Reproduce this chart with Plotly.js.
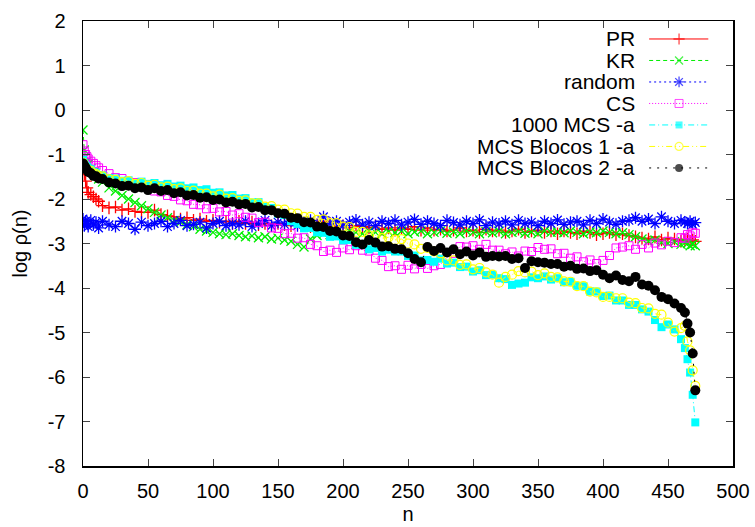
<!DOCTYPE html>
<html><head><meta charset="utf-8">
<script src="https://cdn.plot.ly/plotly-3.0.1.min.js"></script>
<style>html,body{margin:0;padding:0;background:#fff}#c{width:755px;height:527px}</style>
</head><body><div id="c"></div>
<script>
const n = [0,1,2,3,4,6,8,10,12,15,20,25,30,35,40,45,50,55,60,65,70,75,80,85,90,95,100,105,110,115,120,125,130,135,140,145,150,155,160,165,170,175,180,185,190,195,200,205,210,215,220,225,230,235,240,245,250,255,260,265,270,275,280,285,290,295,300,305,310,315,320,325,330,335,340,345,350,355,360,365,370,375,380,385,390,395,400,405,410,415,420,425,430,435,440,445,450,455,460,463,465,467,469,471];

const PR = [-1.25,-1.45,-1.6,-1.75,-1.85,-1.9,-1.95,-2.0,-2.05,-2.15,
-2.2,-2.18,-2.25,-2.22,-2.28,-2.3,-2.3,-2.25,-2.35,-2.38,
-2.4,-2.45,-2.42,-2.48,-2.45,-2.5,-2.48,-2.52,-2.5,-2.55,
-2.5,-2.55,-2.52,-2.58,-2.55,-2.6,-2.55,-2.58,-2.6,-2.55,
-2.6,-2.62,-2.58,-2.5,-2.55,-2.62,-2.6,-2.65,-2.6,-2.62,
-2.65,-2.6,-2.68,-2.65,-2.7,-2.65,-2.68,-2.62,-2.7,-2.65,
-2.7,-2.68,-2.72,-2.7,-2.65,-2.72,-2.7,-2.75,-2.68,-2.72,
-2.7,-2.75,-2.72,-2.68,-2.75,-2.72,-2.7,-2.75,-2.72,-2.78,
-2.72,-2.75,-2.78,-2.72,-2.75,-2.8,-2.78,-2.75,-2.8,-2.78,
-2.82,-2.85,-2.88,-2.9,-2.85,-2.92,-2.88,-2.9,-2.95,-2.92,
-2.9,-2.95,-2.92,-2.95];

const KR = [-0.45,-0.9,-1.05,-1.15,-1.22,-1.32,-1.4,-1.48,-1.55,-1.62,
-1.75,-1.82,-1.92,-2.0,-2.08,-2.15,-2.22,-2.3,-2.36,-2.42,
-2.48,-2.52,-2.58,-2.62,-2.68,-2.72,-2.75,-2.78,-2.8,-2.78,
-2.82,-2.85,-2.83,-2.87,-2.85,-2.9,-2.88,-2.92,-2.95,-3.02,
-3.08,-2.9,-2.82,-2.78,-2.8,-2.75,-2.78,-2.72,-2.75,-2.78,
-2.72,-2.75,-2.78,-2.73,-2.76,-2.72,-2.78,-2.74,-2.72,-2.78,
-2.75,-2.72,-2.77,-2.74,-2.78,-2.72,-2.75,-2.78,-2.73,-2.76,
-2.72,-2.78,-2.75,-2.73,-2.77,-2.74,-2.78,-2.72,-2.75,-2.74,
-2.76,-2.72,-2.75,-2.78,-2.74,-2.76,-2.72,-2.75,-2.78,-2.76,
-2.8,-2.85,-2.9,-2.95,-2.92,-2.98,-3.0,-2.96,-3.02,-2.98,
-3.0,-3.05,-3.02,-3.05];

const RANDOM = [-2.45,-2.6,-2.5,-2.55,-2.62,-2.48,-2.58,-2.52,-2.65,-2.5,
-2.58,-2.62,-2.5,-2.55,-2.68,-2.52,-2.6,-2.55,-2.5,-2.62,
-2.55,-2.48,-2.6,-2.57,-2.52,-2.65,-2.55,-2.5,-2.6,-2.55,
-2.58,-2.5,-2.62,-2.55,-2.48,-2.6,-2.52,-2.57,-2.5,-2.6,
-2.53,-2.48,-2.58,-2.4,-2.55,-2.5,-2.6,-2.52,-2.47,-2.58,
-2.52,-2.6,-2.5,-2.55,-2.48,-2.58,-2.52,-2.46,-2.57,-2.5,
-2.55,-2.6,-2.48,-2.53,-2.58,-2.5,-2.55,-2.47,-2.6,-2.52,
-2.56,-2.5,-2.58,-2.48,-2.55,-2.52,-2.6,-2.5,-2.55,-2.47,
-2.57,-2.52,-2.5,-2.58,-2.48,-2.55,-2.45,-2.52,-2.57,-2.5,
-2.48,-2.42,-2.5,-2.45,-2.55,-2.4,-2.5,-2.55,-2.48,-2.52,
-2.55,-2.5,-2.57,-2.53];

const CS = [-0.78,-0.92,-1.0,-1.05,-1.1,-1.15,-1.2,-1.25,-1.3,-1.36,
-1.43,-1.52,-1.54,-1.62,-1.63,-1.72,-1.74,-1.82,-1.84,-1.92,
-1.94,-2.02,-2.04,-2.12,-2.13,-2.22,-2.21,-2.29,-2.28,-2.36,
-2.33,-2.41,-2.43,-2.53,-2.52,-2.65,-2.66,-2.78,-2.77,-2.88,
-2.87,-3.02,-3.05,-3.18,-3.15,-3.2,-3.1,-3.14,-3.05,-3.15,
-3.17,-3.33,-3.38,-3.52,-3.5,-3.58,-3.49,-3.57,-3.47,-3.56,
-3.5,-3.47,-3.32,-3.22,-3.07,-3.08,-3.05,-3.13,-3.02,-3.15,
-3.15,-3.23,-3.19,-3.28,-3.17,-3.18,-3.09,-3.13,-3.12,-3.23,
-3.22,-3.33,-3.3,-3.41,-3.37,-3.45,-3.38,-3.27,-3.1,-3.08,
-3.05,-3.13,-3.02,-3.1,-2.99,-3.03,-2.95,-2.98,-2.87,-2.88,
-2.8,-2.83,-2.76,-2.77];

const MCS1000 = [-1.12,-1.2,-1.25,-1.28,-1.31,-1.33,-1.39,-1.41,-1.46,-1.47,
-1.53,-1.54,-1.59,-1.58,-1.64,-1.61,-1.66,-1.64,-1.69,-1.66,
-1.72,-1.7,-1.76,-1.74,-1.8,-1.78,-1.86,-1.85,-1.92,-1.91,
-1.99,-1.98,-2.08,-2.07,-2.18,-2.2,-2.33,-2.36,-2.5,-2.56,
-2.66,-2.65,-2.75,-2.76,-2.85,-2.84,-2.93,-2.92,-3.03,-3.02,
-3.13,-3.1,-3.18,-3.14,-3.18,-3.18,-3.28,-3.27,-3.38,-3.37,
-3.41,-3.34,-3.45,-3.43,-3.53,-3.52,-3.63,-3.6,-3.71,-3.7,
-3.78,-3.8,-3.93,-3.9,-3.88,-3.76,-3.78,-3.74,-3.81,-3.78,
-3.87,-3.86,-3.95,-3.96,-4.08,-4.08,-4.18,-4.17,-4.28,-4.28,
-4.38,-4.38,-4.48,-4.53,-4.72,-4.88,-4.82,-4.93,-5.15,-5.35,
-5.6,-5.9,-6.4,-7.02];

const BLOCOS1 = [-1.18,-1.25,-1.3,-1.33,-1.36,-1.37,-1.43,-1.44,-1.49,-1.49,
-1.56,-1.57,-1.62,-1.6,-1.66,-1.64,-1.7,-1.68,-1.74,-1.72,
-1.78,-1.76,-1.82,-1.81,-1.88,-1.88,-1.94,-1.9,-1.99,-1.98,
-2.04,-2.03,-2.1,-2.1,-2.17,-2.16,-2.24,-2.24,-2.32,-2.33,
-2.4,-2.4,-2.47,-2.46,-2.54,-2.54,-2.62,-2.63,-2.74,-2.74,
-2.82,-2.82,-2.88,-2.86,-2.92,-2.9,-3.0,-3.02,-3.12,-3.1,
-3.18,-3.22,-3.38,-3.38,-3.48,-3.47,-3.58,-3.55,-3.65,-3.7,
-3.88,-3.75,-3.7,-3.62,-3.65,-3.63,-3.71,-3.67,-3.75,-3.76,
-3.85,-3.86,-3.96,-3.96,-4.08,-4.1,-4.2,-4.2,-4.23,-4.23,
-4.33,-4.34,-4.45,-4.46,-4.58,-4.6,-4.78,-4.98,-4.9,-4.85,
-5.2,-5.4,-5.85,-6.2];

const BLOCOS2 = [-1.2,-1.25,-1.3,-1.35,-1.39,-1.42,-1.48,-1.49,-1.54,-1.55,
-1.63,-1.65,-1.71,-1.7,-1.76,-1.74,-1.8,-1.76,-1.82,-1.8,
-1.87,-1.85,-1.92,-1.91,-1.97,-1.96,-2.02,-2.01,-2.08,-2.06,
-2.12,-2.11,-2.19,-2.18,-2.25,-2.25,-2.32,-2.33,-2.42,-2.43,
-2.52,-2.53,-2.62,-2.63,-2.72,-2.73,-2.82,-2.83,-2.97,-3.02,
-2.92,-2.98,-3.07,-3.06,-3.12,-3.13,-3.22,-3.35,-3.42,-3.08,
-3.17,-3.1,-3.2,-3.13,-3.24,-3.18,-3.27,-3.2,-3.3,-3.28,
-3.29,-3.28,-3.35,-3.33,-3.55,-3.4,-3.42,-3.43,-3.46,-3.46,
-3.52,-3.5,-3.57,-3.56,-3.62,-3.6,-3.7,-3.78,-3.72,-3.82,
-3.85,-3.75,-3.92,-3.95,-4.05,-4.2,-4.25,-4.35,-4.45,-4.55,
-4.8,-5.0,-5.47,-6.3];

const yTicks = [-8,-7,-6,-5,-4,-3,-2,-1,0,1,2];
const yTickText = ["-8","-7","-6","-5","-4","-3","-2","-1","0","1","2"];

const names = ["PR","KR","random","CS","1000 MCS -a","MCS Blocos 1 -a","MCS Blocos 2 -a"];
const series = [PR, KR, RANDOM, CS, MCS1000, BLOCOS1, BLOCOS2];
const styles = [
  {c:'#ff0000', sym:'cross-thin-open', size:9, dash:'solid', mlw:1.3},
  {c:'#00ee00', sym:'x-thin-open', size:9, dash:'4px,3px', mlw:1.3},
  {c:'#0000ff', sym:'asterisk-open', size:10, dash:'2px,3px', mlw:1.3},
  {c:'#ff00ff', sym:'square-open', size:8, dash:'1px,2px', mlw:1},
  {c:'#00ffff', sym:'square', size:8, dash:'6px,3px,1px,3px', mlw:0},
  {c:'#ffff00', sym:'circle-open', size:9, dash:'6px,3px,1px,3px,1px,3px', mlw:1.2},
  {c:'#000000', sym:'circle', size:10, dash:'2px,6px', mlw:0}
];

const traces = series.map((ys, i) => ({
  x: n, y: ys, type: 'scatter', mode: 'lines+markers', showlegend: false,
  line: {color: styles[i].c, width: 1, dash: styles[i].dash},
  marker: {symbol: styles[i].sym, size: styles[i].size, color: styles[i].c,
           line: {color: styles[i].c, width: styles[i].mlw}}
}));

// custom legend (text right-aligned, sample on the right), in an overlay axis pair spanning [0,1]
const annotations = [];
const rowTop = 0.9596, rowStep = 0.0483;
const legendSizes = [8,8,9,8,7,8,8];
names.forEach((nm, i) => {
  const y = rowTop - i * rowStep;
  annotations.push({xref:'paper', yref:'paper', x:0.852, y:y, xanchor:'right', yanchor:'middle',
    text: nm, showarrow:false, font:{family:'Liberation Sans, Arial, sans-serif', size:21, color:'#000'}});
  traces.push({x:[0.871,0.917,0.962], y:[y,y,y], xaxis:'x2', yaxis:'y2', type:'scatter',
    mode:'lines+markers', showlegend:false, hoverinfo:'skip',
    line:{color:styles[i].c, width:1, dash:styles[i].dash},
    marker:{symbol:styles[i].sym, size:[0,legendSizes[i],0], color:styles[i].c,
            line:{color:styles[i].c, width:styles[i].mlw}}});
});

const font = {family:'Liberation Sans, Arial, sans-serif', size:20, color:'#000'};
const layout = {
  width:755, height:527,
  margin:{l:83, r:22, t:21, b:61},
  paper_bgcolor:'#fff', plot_bgcolor:'#fff',
  font: font,
  showlegend:false,
  xaxis:{range:[0,500], dtick:50, tick0:0, ticks:'inside', ticklen:7, tickwidth:1,
    mirror:'allticks', showline:true, linecolor:'#000', linewidth:1.5, showgrid:false,
    zeroline:false, ticklabelstandoff:6, tickfont:font,
    title:{text:'n', font:font, standoff:6}},
  yaxis:{range:[-8,2], tickmode:'array', tickvals:yTicks, ticktext:yTickText,
    ticks:'inside', ticklen:7, tickwidth:1,
    mirror:'allticks', showline:true, linecolor:'#000', linewidth:1.5, showgrid:false,
    zeroline:false, ticklabelstandoff:12, tickfont:font,
    title:{text:'log ρ(n)', font:font, standoff:14}},
  xaxis2:{overlaying:'x', range:[0,1], visible:false, fixedrange:true},
  yaxis2:{overlaying:'y', range:[0,1], visible:false, fixedrange:true},
  annotations: annotations
};
Plotly.newPlot('c', traces, layout, {staticPlot:true, displayModeBar:false});
</script></body></html>
